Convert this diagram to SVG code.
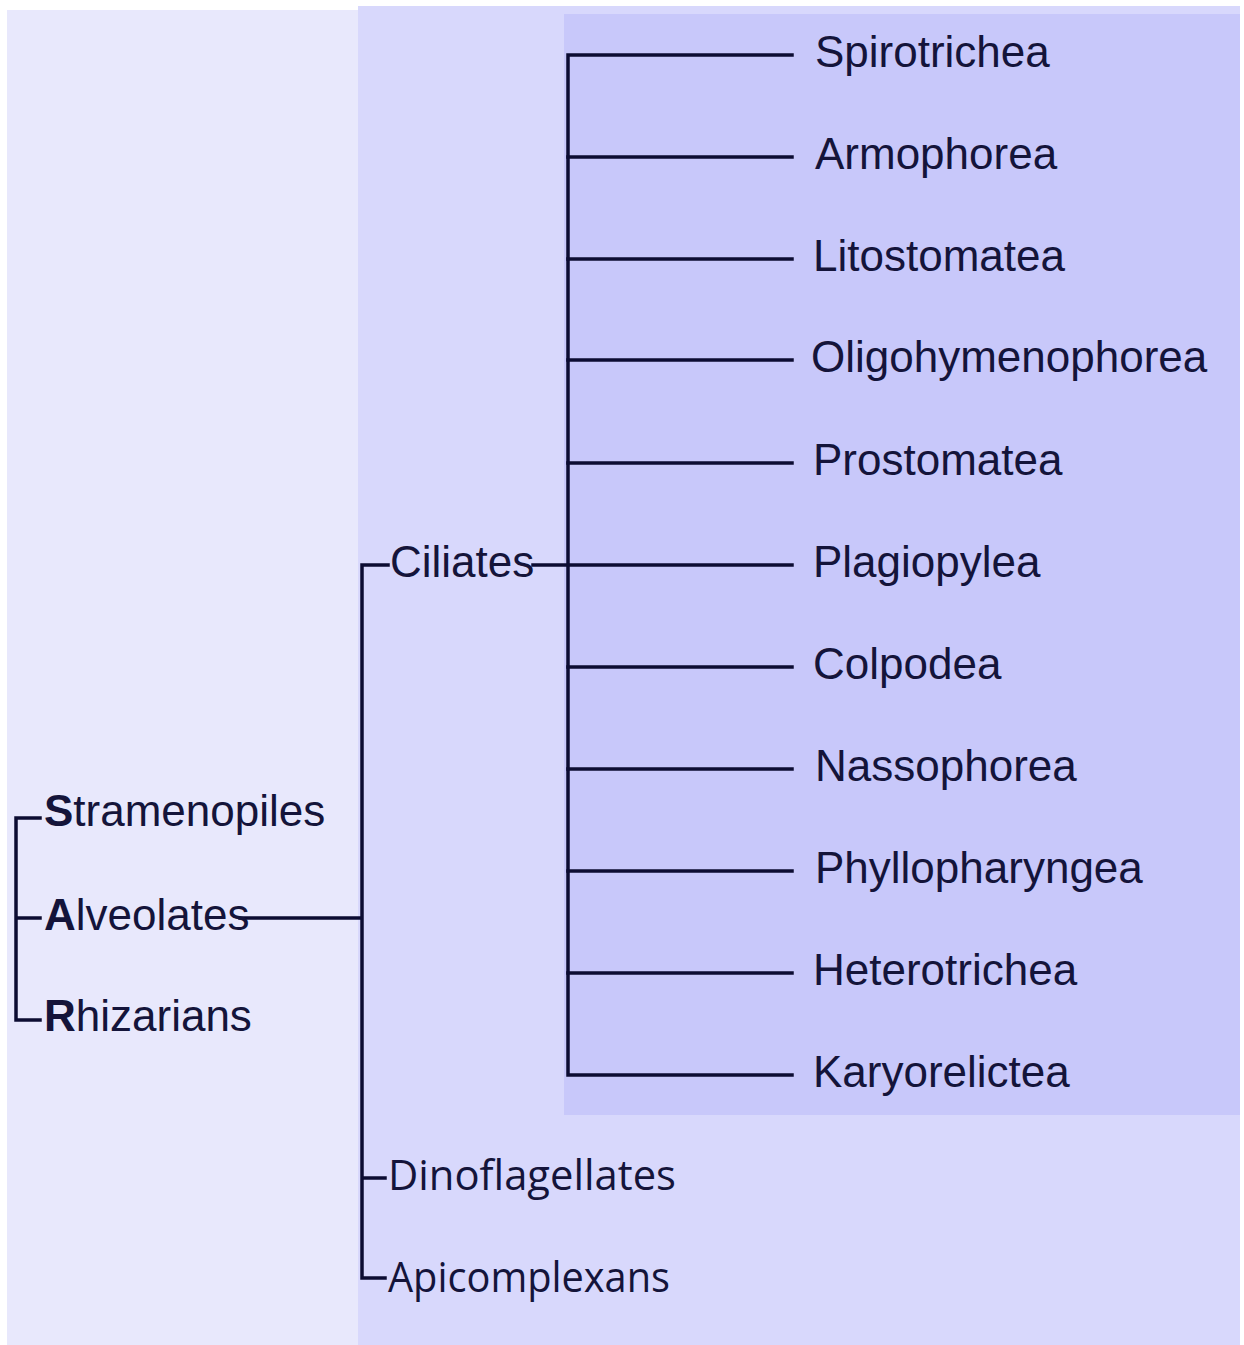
<svg xmlns="http://www.w3.org/2000/svg" width="1244" height="1345" viewBox="0 0 1244 1345">
<style>
.t{font-family:"Liberation Sans",Arial,sans-serif;font-size:44px;fill:#14143a}
.s{font-family:"Open Sans","Noto Sans",sans-serif;font-size:42px;fill:#14143a}
.b{font-weight:bold}
.c{stroke:#0c0c32;stroke-width:3.5;fill:none;stroke-linecap:square}
</style>
<rect x="0" y="0" width="1244" height="1345" fill="#ffffff"/>
<rect id="bg-sar" x="7" y="10" width="1233" height="1335" fill="#e8e8fc"/>
<rect id="bg-alveolates" x="358" y="6" width="882" height="1339" fill="#d8d8fc"/>
<rect id="bg-ciliates" x="564" y="14" width="676" height="1101" fill="#c8c8fa"/>
<g id="connectors" class="c">
<path d="M40,818 H16 V1020 H40 M16,918 H40"/>
<path d="M240,918 H360"/>
<path d="M388,565 H362 V1278 H385 M362,1178 H385"/>
<path d="M533,565 H792"/>
<path d="M792,55 H568 V1075 H792"/>
<path d="M568,157 H792 M568,259 H792 M568,360 H792 M568,463 H792 M568,667 H792 M568,769 H792 M568,871 H792 M568,973 H792"/>
</g>
<g id="n-stramenopiles"><text class="t" x="44" y="826"><tspan class="b">S</tspan>tramenopiles</text></g>
<g id="n-alveolates"><text class="t" x="44" y="930"><tspan class="b">A</tspan>lveolates</text></g>
<g id="n-rhizarians"><text class="t" x="44" y="1031"><tspan class="b">R</tspan>hizarians</text></g>
<g id="n-ciliates"><text class="t" x="390" y="577">Ciliates</text></g>
<g id="n-dinoflagellates"><text class="s" x="388" y="1190" textLength="288" lengthAdjust="spacingAndGlyphs">Dinoflagellates</text></g>
<g id="n-apicomplexans"><text class="s" x="388" y="1292" textLength="282" lengthAdjust="spacingAndGlyphs">Apicomplexans</text></g>
<g id="n-spirotrichea"><text class="t" x="815" y="67">Spirotrichea</text></g>
<g id="n-armophorea"><text class="t" x="815" y="169">Armophorea</text></g>
<g id="n-litostomatea"><text class="t" x="813" y="271">Litostomatea</text></g>
<g id="n-oligohymenophorea"><text class="t" x="811" y="372">Oligohymenophorea</text></g>
<g id="n-prostomatea"><text class="t" x="813" y="475">Prostomatea</text></g>
<g id="n-plagiopylea"><text class="t" x="813" y="577">Plagiopylea</text></g>
<g id="n-colpodea"><text class="t" x="813" y="679">Colpodea</text></g>
<g id="n-nassophorea"><text class="t" x="815" y="781">Nassophorea</text></g>
<g id="n-phyllopharyngea"><text class="t" x="815" y="883">Phyllopharyngea</text></g>
<g id="n-heterotrichea"><text class="t" x="813" y="985">Heterotrichea</text></g>
<g id="n-karyorelictea"><text class="t" x="813" y="1087">Karyorelictea</text></g>
</svg>
